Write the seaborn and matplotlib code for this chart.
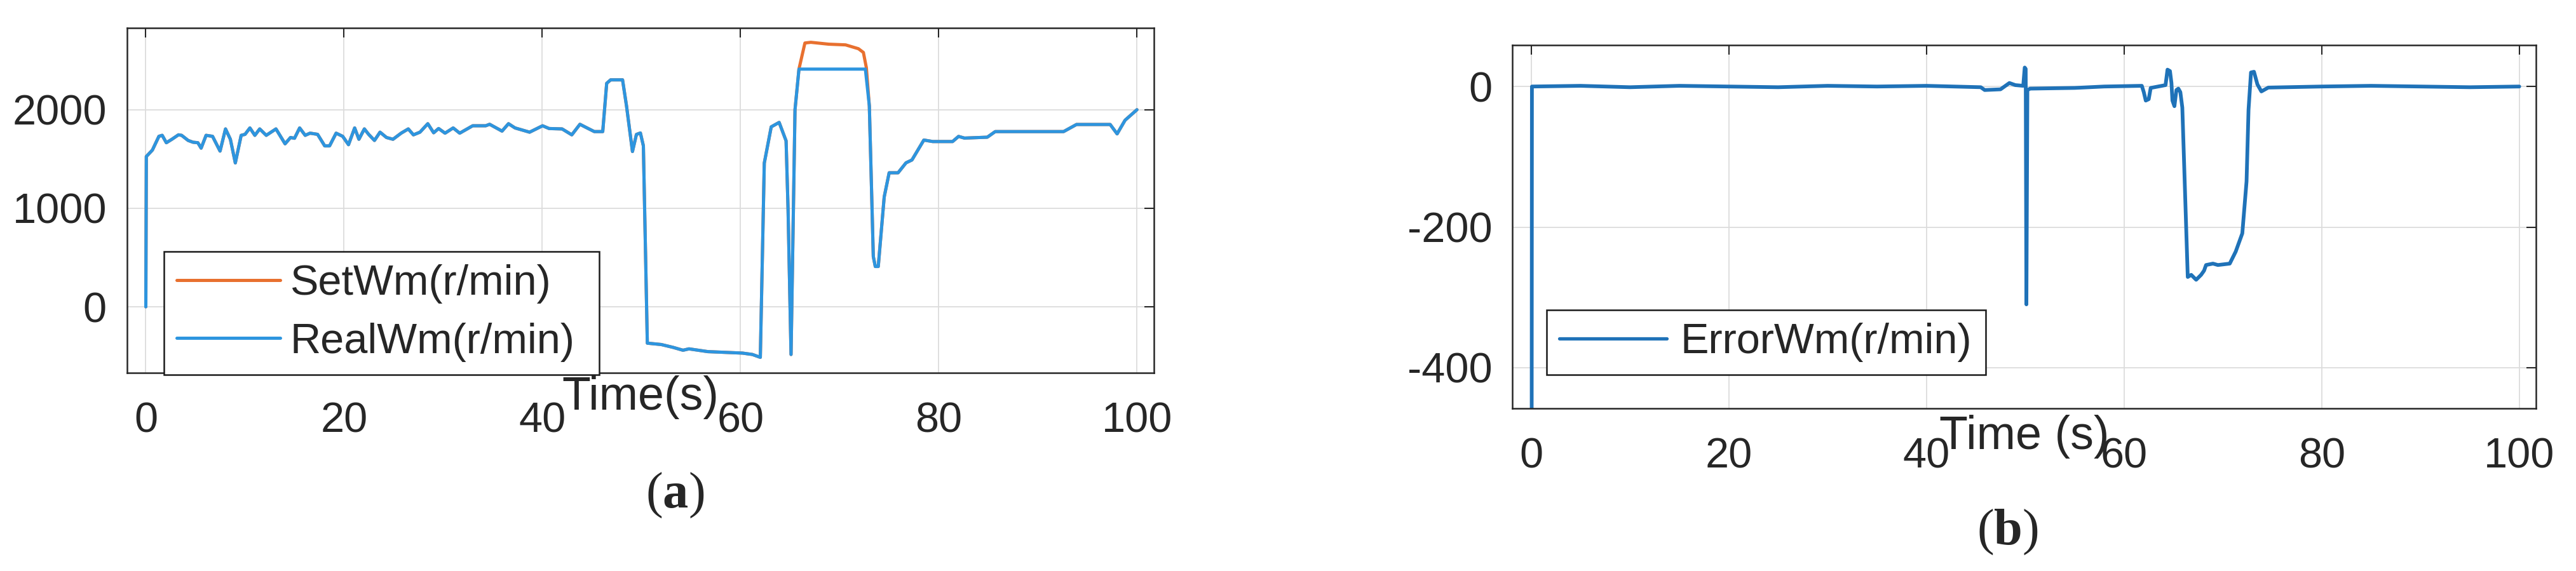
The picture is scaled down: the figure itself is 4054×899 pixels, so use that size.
import numpy as np
import pandas as pd
import matplotlib
matplotlib.use("Agg")
import matplotlib.pyplot as plt
import seaborn as sns

real_time = [0.0, 0.05, 0.66, 1.32, 1.65, 2.07, 2.63, 3.29, 3.61, 4.27,
             4.76, 5.25, 5.58, 6.08, 6.73, 7.49, 8.04, 8.53, 9.03, 9.62,
             10.01, 10.5, 11.0, 11.49, 12.15, 13.13, 14.05, 14.6, 15.0, 15.52,
             16.08, 16.57, 17.33, 18.05, 18.54, 19.2, 19.86, 20.45, 21.07, 21.5,
             22.05, 22.48, 23.07, 23.63, 24.28, 24.94, 25.76, 26.48, 27.0, 27.66,
             28.45, 29.04, 29.54, 30.19, 31.01, 31.67, 32.98, 34.29, 34.69, 35.94,
             36.59, 37.25, 38.72, 40.03, 40.69, 42.0, 42.98, 43.8, 44.4, 45.25,
             46.1, 46.5, 46.9, 48.1, 48.5, 49.1, 49.5, 49.9, 50.2, 50.6,
             52.0, 53.2, 54.2, 54.8, 56.7, 60.2, 61.2, 62.0, 62.4, 63.1,
             63.9, 64.6, 64.8, 65.1, 65.5, 65.9, 72.6, 73.0, 73.4, 73.6,
             73.9, 74.5, 75.0, 75.9, 76.7, 77.3, 78.5, 79.4, 81.4, 82.0,
             82.6, 84.9, 85.7, 92.6, 93.9, 97.3, 98.0, 98.8, 100.0]
real_speed = [0, 1525, 1590, 1730, 1740, 1665, 1700, 1745, 1740, 1688,
              1670, 1665, 1610, 1740, 1730, 1580, 1805, 1700, 1460, 1740,
              1750, 1815, 1740, 1805, 1740, 1805, 1654, 1718, 1710, 1815,
              1740, 1762, 1750, 1633, 1633, 1762, 1730, 1645, 1815, 1700,
              1805, 1750, 1688, 1772, 1718, 1700, 1762, 1805, 1745, 1772,
              1858, 1766, 1809, 1762, 1815, 1762, 1837, 1837, 1852, 1783,
              1858, 1815, 1772, 1837, 1809, 1805, 1745, 1852, 1821, 1778,
              1778, 2268, 2303, 2303, 2038, 1576, 1749, 1764, 1634, -369,
              -383, -412, -441, -427, -455, -470, -484, -513, 1458, 1826,
              1871, 1684, 987, -484, 2000, 2412, 2412, 2038, 510, 409,
              409, 1115, 1360, 1360, 1461, 1490, 1692, 1677, 1677, 1729,
              1712, 1721, 1778, 1778, 1850, 1850, 1755, 1893, 2000]

# (a) set speed: equals the real speed except on the saturated plateau
set_peak_time = [65.9, 66.5, 67.1, 68.9, 70.6, 71.9, 72.4, 72.7]
set_peak_speed = [2413, 2677, 2684, 2665, 2658, 2619, 2581, 2426]

# (b) speed error
err_time = [0.0, 0.08, 5, 10, 15, 20, 25, 30, 35, 40,
            45.5, 45.9, 47.5, 48.0, 48.4, 49.0, 49.8, 49.95, 50.05, 50.12,
            50.22, 50.5, 55, 58, 61.8, 62.0, 62.2, 62.5, 62.7, 64.2,
            64.4, 64.65, 64.8, 64.9, 65.1, 65.3, 65.5, 65.7, 65.9, 66.45,
            66.8, 67.3, 67.8, 68.1, 68.3, 69.0, 69.5, 70.7, 71.3, 71.97,
            72.4, 72.6, 72.85, 73.15, 73.5, 73.9, 74.6, 80, 85, 90,
            95, 100]
err_speed = [-1500, 0, 1, -1, 1, 0, -1, 1, 0, 1,
             -1, -5, -4, 1, 5, 2, 1, 27, 25, -310,
             -5, -3, -2, 0, 1, -8, -20, -18, -2, 2,
             24, 22, 5, -20, -28, -5, -3, -8, -30, -271,
             -268, -275, -268, -262, -254, -252, -254, -252, -235, -209,
             -135, -33, 20, 21, 3, -7, -1.5, 0, 1, 0,
             -1, 0]

x_ticks = [0, 20, 40, 60, 80, 100]
yticks_a = [0, 1000, 2000]
yticks_b = [-400, -200, 0]

sns.set_theme(style="white")
plt.rcParams['font.family'] = ['Liberation Sans', 'DejaVu Sans']
plt.rcParams['axes.unicode_minus'] = False
plt.rcParams['mathtext.fontset'] = 'custom'
plt.rcParams['mathtext.rm'] = 'Liberation Serif'
plt.rcParams['mathtext.bf'] = 'Liberation Serif:bold'

set_time, set_speed = [], []
for t, v in zip(real_time, real_speed):
    if t < set_peak_time[0]:
        set_time.append(t); set_speed.append(v)
set_time += set_peak_time
set_speed += set_peak_speed
for t, v in zip(real_time, real_speed):
    if t > set_peak_time[-1]:
        set_time.append(t); set_speed.append(v)

df_a = pd.concat([
    pd.DataFrame({'t': set_time, 'w': set_speed, 'series': 'SetWm(r/min)'}),
    pd.DataFrame({'t': real_time, 'w': real_speed, 'series': 'RealWm(r/min)'}),
], ignore_index=True)
df_b = pd.DataFrame({'t': err_time, 'w': err_speed, 'series': 'ErrorWm(r/min)'})

fig = plt.figure(figsize=(40.54, 8.99), dpi=100)
ax1 = fig.add_axes([0.0493, 0.3471, 0.3986, 0.604])
ax2 = fig.add_axes([0.5871, 0.2848, 0.3974, 0.6363])

sns.lineplot(data=df_a, x='t', y='w', hue='series', estimator=None, sort=False,
             palette={'SetWm(r/min)': '#E8702F', 'RealWm(r/min)': '#2D95DF'},
             linewidth=3.6, ax=ax1)
sns.lineplot(data=df_b, x='t', y='w', hue='series', estimator=None, sort=False,
             palette={'ErrorWm(r/min)': '#1F72B8'}, linewidth=4.2, ax=ax2)


def style_axes(ax, yticks, ylim):
    ax.set_xlim(-1.9, 101.7)
    ax.set_ylim(*ylim)
    ax.set_xticks(x_ticks)
    ax.set_yticks(yticks)
    ax.set_ylabel('')
    ax.grid(True, color='#dcdcdc', linewidth=1.3)
    ax.tick_params(axis='both', direction='in', length=11, width=1.5,
                   top=True, right=True, labelsize=48, colors='#262626')
    ax.tick_params(axis='x', pad=33)
    ax.tick_params(axis='y', pad=23)
    for s in ax.spines.values():
        s.set_visible(True)
        s.set_color('#262626')
        s.set_linewidth(1.8)


style_axes(ax1, yticks_a, (-670, 2830))
style_axes(ax2, yticks_b, (-458, 59))

ax1.set_xlabel('Time(s)', fontsize=53, color='#262626')
ax1.xaxis.set_label_coords(0.5, -0.008)
ax2.set_xlabel('Time (s)', fontsize=53, color='#262626')
ax2.xaxis.set_label_coords(0.5, -0.018)

h, l = ax1.get_legend_handles_labels()
leg = ax1.legend(h, l, loc='lower left', bbox_to_anchor=(0.036, -0.005, 0.424, 0.3),
                 mode='expand', borderaxespad=0, fontsize=48, fancybox=False,
                 edgecolor='#1a1a1a', framealpha=1, handlelength=2.45,
                 handletextpad=0.22, borderpad=0.3, labelspacing=0.44)
leg.get_frame().set_linewidth(1.8)
for line in leg.get_lines():
    line.set_linewidth(3.6)

h, l = ax2.get_legend_handles_labels()
leg = ax2.legend(h, l, loc='lower left', bbox_to_anchor=(0.0335, 0.0927, 0.429, 0.2),
                 mode='expand', borderaxespad=0, fontsize=48, fancybox=False,
                 edgecolor='#1a1a1a', framealpha=1, handlelength=2.53,
                 handletextpad=0.33, borderpad=0.3)
leg.get_frame().set_linewidth(1.8)
for line in leg.get_lines():
    line.set_linewidth(3.8)

fig.text(1062 / 4054, 1 - 780 / 899, r'($\mathbf{a}$)', ha='center', va='center',
         fontsize=58, family='Liberation Serif')
fig.text(3159 / 4054, 1 - 838 / 899, r'($\mathbf{b}$)', ha='center', va='center',
         fontsize=58, family='Liberation Serif')

fig.savefig('out.png', dpi=100, facecolor='white')
